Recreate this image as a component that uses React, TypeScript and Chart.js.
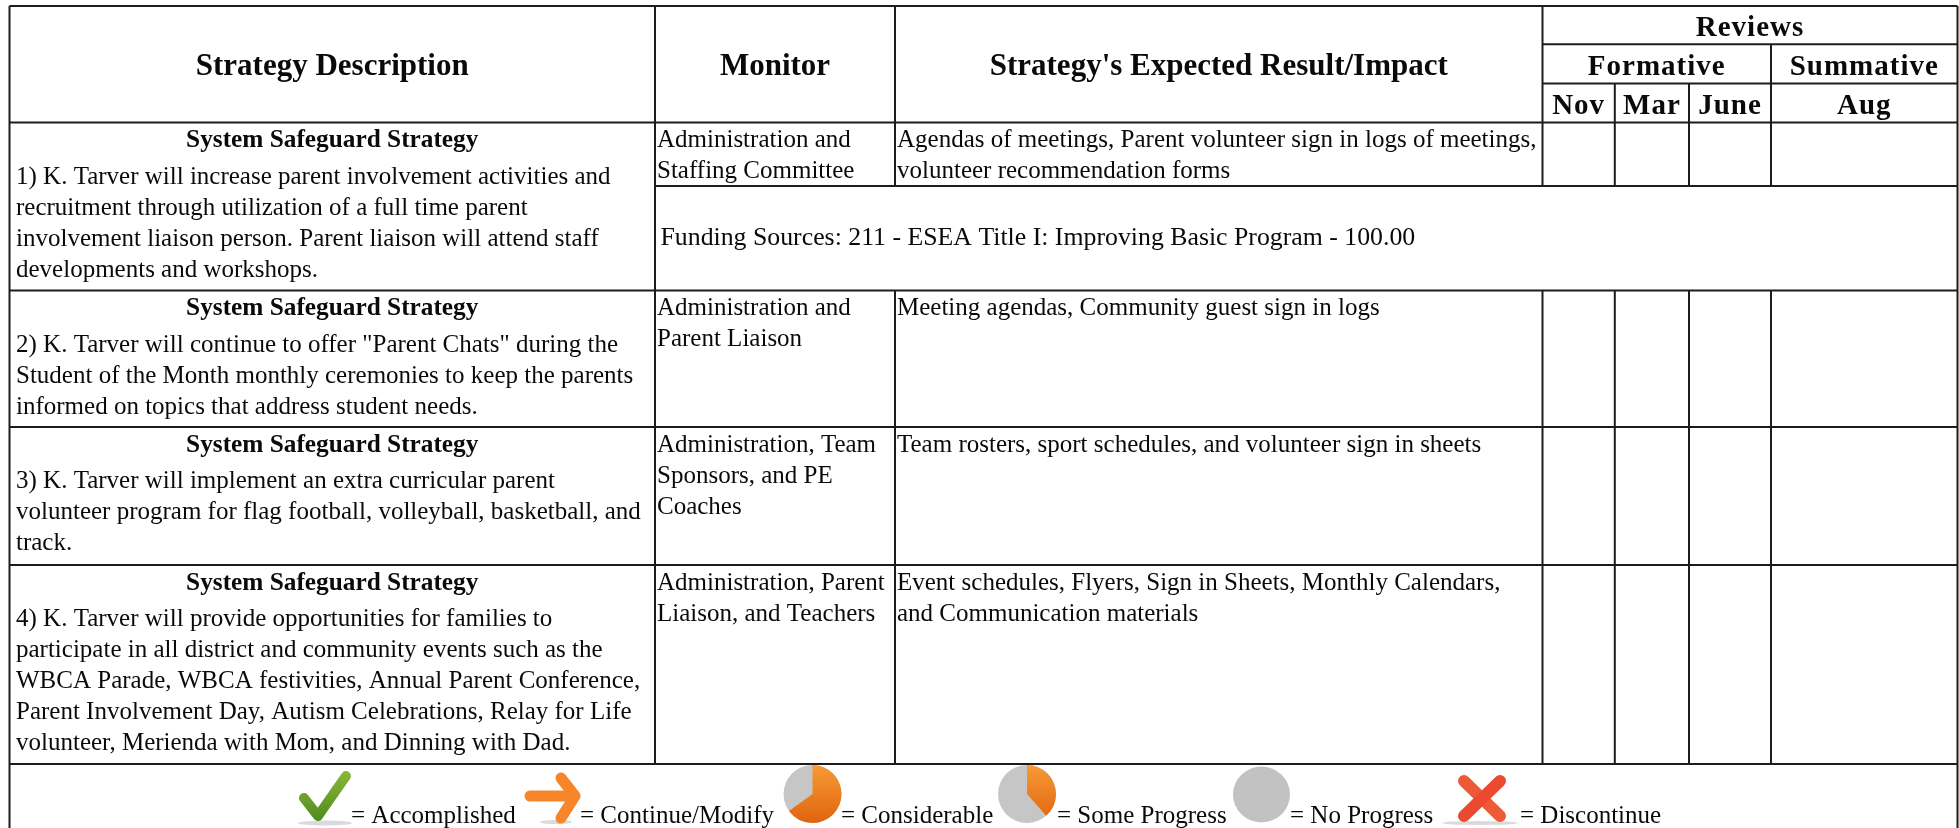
import React, { useEffect, useRef } from "react";
import { Chart, registerables } from "chart.js";

Chart.register(...registerables);

const W = 1959;
const H = 828;
const SERIF = '"Liberation Serif", "Times New Roman", serif';
const INK = "#1c1c1c";

const colX = [9.5, 655, 895, 1542.5, 1614.8, 1689, 1771, 1957.5];
const rowY = [6, 44.3, 83.5, 122.5, 186, 290.5, 427, 565, 764];

const headers = ["Strategy Description", "Monitor", "Strategy's Expected Result/Impact"];
const reviewHeaders = ["Reviews", "Formative", "Summative"];
const months = ["Nov", "Mar", "June", "Aug"];
const strategyHeading = "System Safeguard Strategy";

const strategy1 = [
  "1) K. Tarver will increase parent involvement activities and",
  "recruitment through utilization of a full time parent",
  "involvement liaison person. Parent liaison will attend staff",
  "developments and workshops.",
];
const strategy2 = [
  "2) K. Tarver will continue to offer \"Parent Chats\" during the",
  "Student of the Month monthly ceremonies to keep the parents",
  "informed on topics that address student needs.",
];
const strategy3 = [
  "3) K. Tarver will implement an extra curricular parent",
  "volunteer program for flag football, volleyball, basketball, and",
  "track.",
];
const strategy4 = [
  "4) K. Tarver will provide opportunities for families to",
  "participate in all district and community events such as the",
  "WBCA Parade, WBCA festivities, Annual Parent Conference,",
  "Parent Involvement Day, Autism Celebrations, Relay for Life",
  "volunteer, Merienda with Mom, and Dinning with Dad.",
];
const monitors = [
  ["Administration and", "Staffing Committee"],
  ["Administration and", "Parent Liaison"],
  ["Administration, Team", "Sponsors, and PE", "Coaches"],
  ["Administration, Parent", "Liaison, and Teachers"],
];
const results = [
  ["Agendas of meetings, Parent volunteer sign in logs of meetings,", "volunteer recommendation forms"],
  ["Meeting agendas, Community guest sign in logs"],
  ["Team rosters, sport schedules, and volunteer sign in sheets"],
  ["Event schedules, Flyers, Sign in Sheets, Monthly Calendars,", "and Communication materials"],
];
const funding = "Funding Sources: 211 - ESEA Title I: Improving Basic Program - 100.00";
const legendLabels = ["= Accomplished", "= Continue/Modify", "= Considerable", "= Some Progress", "= No Progress", "= Discontinue"];
const legendTextX = [351, 580, 841, 1057, 1290, 1520];

type Seg = [number, number, number, number];
const rules: Seg[] = [
  [colX[0], rowY[0], colX[7], rowY[0]],
  [colX[3], rowY[1], colX[7], rowY[1]],
  [colX[3], rowY[2], colX[7], rowY[2]],
  [colX[0], rowY[3], colX[7], rowY[3]],
  [colX[1], rowY[4], colX[7], rowY[4]],
  [colX[0], rowY[5], colX[7], rowY[5]],
  [colX[0], rowY[6], colX[7], rowY[6]],
  [colX[0], rowY[7], colX[7], rowY[7]],
  [colX[0], rowY[8], colX[7], rowY[8]],
  [colX[0], rowY[0], colX[0], H],
  [colX[7], rowY[0], colX[7], H],
  [colX[1], rowY[0], colX[1], rowY[8]],
  [colX[2], rowY[0], colX[2], rowY[4]],
  [colX[2], rowY[5], colX[2], rowY[8]],
  [colX[3], rowY[0], colX[3], rowY[4]],
  [colX[3], rowY[5], colX[3], rowY[8]],
  [colX[4], rowY[2], colX[4], rowY[4]],
  [colX[4], rowY[5], colX[4], rowY[8]],
  [colX[5], rowY[2], colX[5], rowY[4]],
  [colX[5], rowY[5], colX[5], rowY[8]],
  [colX[6], rowY[1], colX[6], rowY[4]],
  [colX[6], rowY[5], colX[6], rowY[8]],
];

const tablePlugin = {
  id: "tableText",
  afterDatasetsDraw(chart: any) {
    const ctx: any = chart.ctx;
    const sx = (v: number) => chart.scales.x.getPixelForValue(v);
    const sy = (v: number) => chart.scales.y.getPixelForValue(v);
    const text = (s: string, x: number, y: number, size: number, bold = false, align: CanvasTextAlign = "left", spacing = 0) => {
      ctx.font = `${bold ? "bold " : ""}${size}px ${SERIF}`;
      ctx.letterSpacing = `${spacing}px`;
      ctx.fillStyle = "#0a0a0a";
      ctx.textAlign = align;
      ctx.textBaseline = "alphabetic";
      ctx.fillText(s, sx(x), sy(y));
      ctx.letterSpacing = "0px";
    };
    ctx.save();
    const body = 25;
    const pitch = 31;

    text(headers[0], (colX[0] + colX[1]) / 2, 75, 31, true, "center");
    text(headers[1], (colX[1] + colX[2]) / 2, 75, 31, true, "center");
    text(headers[2], (colX[2] + colX[3]) / 2, 75, 31, true, "center");
    text(reviewHeaders[0], (colX[3] + colX[7]) / 2, 36, 29, true, "center", 1);
    text(reviewHeaders[1], (colX[3] + colX[6]) / 2, 75, 29, true, "center", 1);
    text(reviewHeaders[2], (colX[6] + colX[7]) / 2, 75, 29, true, "center", 1);
    months.forEach((m, i) => text(m, (colX[3 + i] + colX[4 + i]) / 2, 113.5, 29, true, "center", 1));

    const strategies = [strategy1, strategy2, strategy3, strategy4];
    const rowTops = [rowY[3], rowY[5], rowY[6], rowY[7]];
    strategies.forEach((lines, r) => {
      const top = rowTops[r];
      text(strategyHeading, (colX[0] + colX[1]) / 2, top + 24.5, 25.3, true, "center");
      lines.forEach((l, i) => text(l, colX[0] + 6.5, top + 61 + i * pitch, body));
      monitors[r].forEach((l, i) => text(l, colX[1] + 2, top + 24.5 + i * pitch, body));
      results[r].forEach((l, i) => text(l, colX[2] + 2, top + 24.5 + i * pitch, body));
    });
    text(funding, colX[1] + 5.5, 245, 25.8);

    legendLabels.forEach((l, i) => text(l, legendTextX[i], 823, 25));

    // legend icons
    const grad = (y0: number, y1: number, a: string, b: string) => {
      const g = ctx.createLinearGradient(0, sy(y0), 0, sy(y1));
      g.addColorStop(0, a);
      g.addColorStop(1, b);
      return g;
    };
    const stroke = (pts: number[][], w: number, style: CanvasGradient | string) => {
      ctx.beginPath();
      pts.forEach((p, i) => (i ? ctx.lineTo(sx(p[0]), sy(p[1])) : ctx.moveTo(sx(p[0]), sy(p[1]))));
      ctx.lineWidth = w;
      ctx.lineCap = "round";
      ctx.lineJoin = "round";
      ctx.strokeStyle = style;
      ctx.stroke();
    };
    const ellipseFill = (cx: number, cy: number, rx: number, ry: number, from: number, to: number, fill: CanvasGradient | string, full = false) => {
      ctx.beginPath();
      if (!full) ctx.moveTo(sx(cx), sy(cy));
      ctx.ellipse(sx(cx), sy(cy), rx, ry, 0, from, to);
      ctx.closePath();
      ctx.fillStyle = fill;
      ctx.fill();
    };
    const soft = "rgba(150,150,150,0.35)";
    ellipseFill(325, 823, 27, 2.5, 0, Math.PI * 2, soft, true);
    ellipseFill(556, 822, 16, 2, 0, Math.PI * 2, soft, true);
    ellipseFill(1480, 823, 38, 2, 0, Math.PI * 2, soft, true);

    stroke([[304, 798], [318, 816], [346, 776]], 10, grad(770, 822, "#8db83a", "#4d8a1c"));
    stroke([[530, 796], [574, 796]], 11, "#f7862a");
    stroke([[561, 778], [575, 796], [561, 818]], 11, "#f7862a");
    const t = -Math.PI / 2;
    ellipseFill(812.5, 794, 29, 29, 0, Math.PI * 2, "#c6c6c6", true);
    ellipseFill(812.5, 794, 29, 29, t, t + Math.PI * 1.3, grad(765, 823, "#f79a35", "#e0640f"));
    ellipseFill(1027, 794, 29, 29, 0, Math.PI * 2, "#c6c6c6", true);
    ellipseFill(1027, 794, 29, 29, t, t + Math.PI * 0.77, grad(765, 823, "#f79a35", "#e0640f"));
    ellipseFill(1261.5, 794.5, 28.5, 28, 0, Math.PI * 2, "#c2c2c2", true);
    stroke([[1464, 781], [1500, 816]], 12, "#ec5a38");
    stroke([[1500, 781], [1464, 816]], 12, "#ec4a30");
    ctx.restore();
  },
};

export default function App() {
  const ref = useRef<HTMLCanvasElement>(null);
  useEffect(() => {
    if (!ref.current) return;
    const chart = new Chart(ref.current, {
      type: "scatter",
      data: {
        datasets: rules.map((s) => ({
          data: [{ x: s[0], y: s[1] }, { x: s[2], y: s[3] }],
          showLine: true,
          borderColor: INK,
          borderWidth: 2,
          pointRadius: 0,
          clip: false,
        })),
      },
      options: {
        animation: false,
        responsive: false,
        maintainAspectRatio: false,
        layout: { padding: 0 },
        plugins: { legend: { display: false }, tooltip: { enabled: false }, title: { display: false } },
        scales: {
          x: { type: "linear", min: 0, max: W, display: false },
          y: { type: "linear", min: 0, max: H, reverse: true, display: false },
        },
      },
      plugins: [tablePlugin],
    } as any);
    return () => chart.destroy();
  }, []);
  return (
    <div style={{ position: "absolute", left: 0, top: 0, width: W, height: H, background: "#fff" }}>
      <canvas ref={ref} width={W} height={H} style={{ display: "block" }} />
    </div>
  );
}
